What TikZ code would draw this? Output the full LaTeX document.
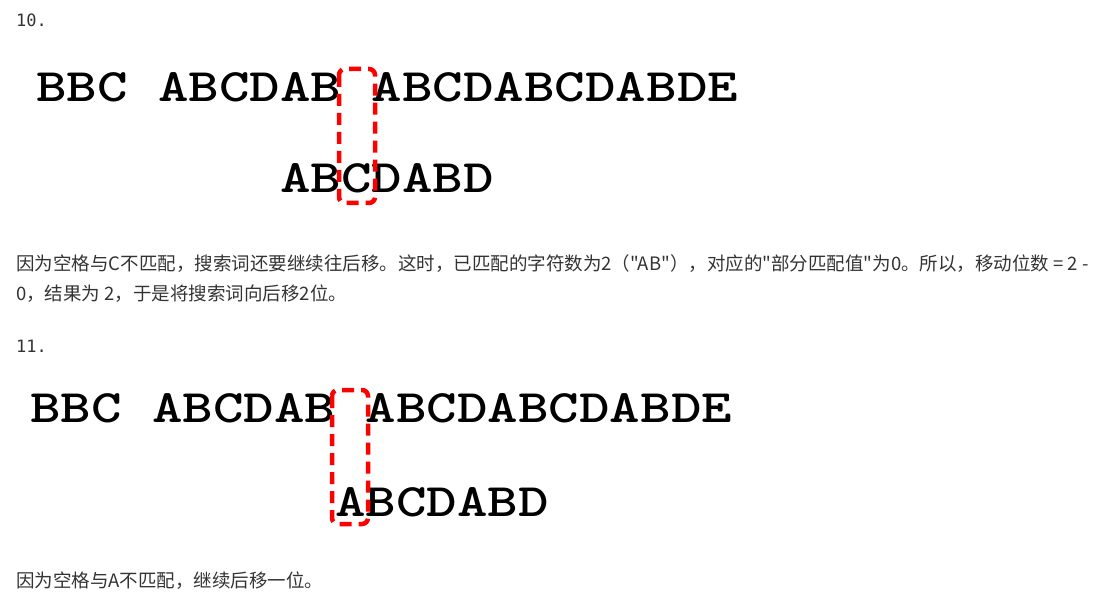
\documentclass[tikz,border=0pt]{standalone}
\usepackage{graphicx}
\usepackage{fontspec}
\newfontfamily\cjk{Noto Sans CJK SC}
\newfontfamily\numfont{DejaVu Sans Mono}
\definecolor{txtgray}{HTML}{333333}
\definecolor{boxred}{HTML}{FF0000}
\newcommand{\wide}[1]{\scalebox{1.25}[1]{#1}}
\tikzset{
  big/.style={font=\ttfamily\bfseries\fontsize{46.5}{46.5}\selectfont, anchor=base west, inner sep=0pt},
  para/.style={font=\cjk\fontsize{18.5}{18.5}\selectfont, text=txtgray, anchor=base west, inner sep=0pt},
  num/.style={font=\numfont\fontsize{17}{17}\selectfont, text=txtgray, anchor=base west, inner sep=0pt},
  redbox/.style={draw=boxred, line width=4.5pt, dash pattern=on 12pt off 7pt, rounded corners=6pt}
}
\begin{document}
\begin{tikzpicture}[x=1pt,y=-1pt]
\useasboundingbox (0,0) rectangle (1108,612);
% section 10
\node[num] (n10) at (16,27) {10.};
\node[big] (s10) at (36,102) {\wide{BBC ABCDAB ABCDABCDABDE}};
\node[big] (p10) at (36+8*30.5,193) {\wide{ABCDABD}};
\draw[redbox] (339,69) rectangle (375,203);
\node[para] (t10a) at (16,271) {因为空格与C不匹配，搜索词还要继续往后移。这时，已匹配的字符数为2（"AB"），对应的"部分匹配值"为0。所以，移动位数 = 2 -};
\node[para] (t10b) at (16,301) {0，结果为 2，于是将搜索词向后移2位。};
% section 11
\node[num] (n11) at (16,352) {11.};
\node[big] (s11) at (30,422) {\wide{BBC ABCDAB ABCDABCDABDE}};
\node[big] (p11) at (30+10*30.5,516) {\wide{ABCDABD}};
\draw[redbox] (332,390) rectangle (368,524);
\node[para] (t11) at (16,587) {因为空格与A不匹配，继续后移一位。};
\end{tikzpicture}
\end{document}
